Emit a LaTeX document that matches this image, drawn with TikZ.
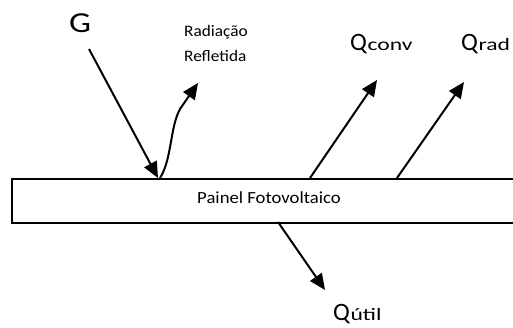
\documentclass[tikz,border=0pt]{standalone}
\usepackage{graphicx}
\usepackage{fontspec}
\setmainfont{Carlito}
\usetikzlibrary{arrows.meta}
\newcommand{\qlab}[1]{\fontsize{25}{27}\selectfont Q\kern0.5pt\scalebox{1.35}[1]{\fontsize{17.5}{20}\selectfont #1}}
\begin{document}
\begin{tikzpicture}[x=1pt,y=1pt,
  flow/.style={line width=2pt,-{Triangle[length=16pt,width=14pt]}},
  big/.style={inner sep=0pt,anchor=base west},
  panelbox/.style={draw,line width=2.2pt,minimum width=540pt,minimum height=44pt,anchor=north west,inner sep=0pt}]
\useasboundingbox (0,0) rectangle (513,327);
\clip (0,0) rectangle (513,327);
\node[panelbox] (panel) at (11,149) {};
\node[anchor=base,inner sep=0pt] (ptext) at (269,124) {\scalebox{1.1}[1]{\fontsize{17}{20}\selectfont Painel Fotovoltaico}};
\coordinate (gin) at (158,149);
\coordinate (rout) at (160,149);
\coordinate (cout) at (310,149);
\coordinate (rdout) at (397,149);
\coordinate (uout) at (278,105);
\coordinate (gstart) at (89,278);
\coordinate (rtip) at (198,244);
\coordinate (ctip) at (377,247);
\coordinate (rdtip) at (464,245);
\coordinate (utip) at (325,37);
\node[anchor=base,inner sep=0pt] (G) at (80,294) {\scalebox{1.2}[1]{\fontsize{29}{30}\selectfont G}};
\node[anchor=base west,inner sep=0pt] (rad1) at (184,290) {\scalebox{1.08}[1]{\fontsize{16}{20}\selectfont Radiação}};
\node[anchor=base west,inner sep=0pt] (rad2) at (184,265) {\scalebox{1.08}[1]{\fontsize{16}{20}\selectfont Refletida}};
\node[big] (qconv) at (350,276) {\qlab{conv}};
\node[big] (qrad) at (461,276) {\qlab{rad}};
\node[big] (qutil) at (333,7) {\qlab{útil}};
\draw[flow] (gstart) -- (gin);
\draw[flow] (rout) .. controls (172,168) and (170,200) .. (180,218) -- (rtip);
\draw[flow] (cout) -- (ctip);
\draw[flow] (rdout) -- (rdtip);
\draw[flow] (uout) -- (utip);
\end{tikzpicture}
\end{document}
